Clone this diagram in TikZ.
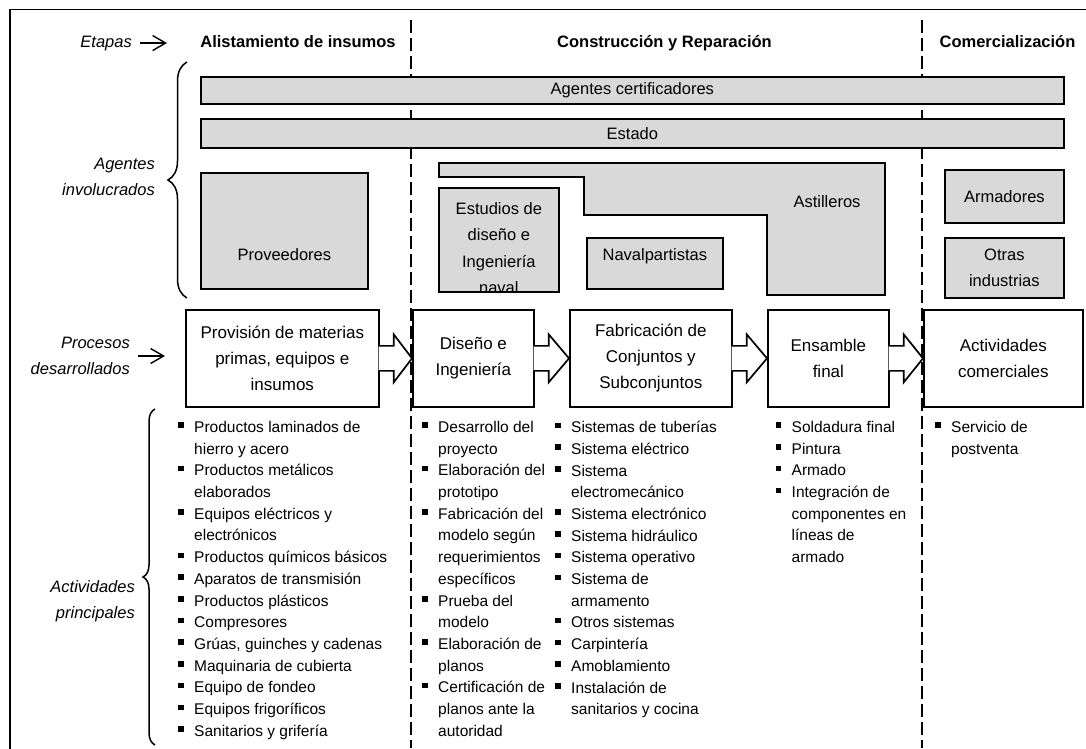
\documentclass[tikz,border=0pt]{standalone}
\usepackage{fontspec}
\setmainfont{Liberation Sans}
\usetikzlibrary{arrows.meta,calc,decorations.pathreplacing}
\definecolor{agentgray}{RGB}{217,217,217}
\newcommand{\bul}{\makebox[16pt][l]{\raisebox{4.5pt}{\rule{5.5pt}{5.5pt}}}}
\newcommand{\cont}{\hspace*{16pt}}
\newcommand{\flowarrow}[2]{%
\filldraw[flow] ($(#1.east)+(-1,-12.5)$) -- ($(#1.east)+(14,-12.5)$) -- ($(#1.east)+(14,-24)$) -- (#2.west) -- ($(#1.east)+(14,24)$) -- ($(#1.east)+(14,12.5)$) -- ($(#1.east)+(-1,12.5)$);}

\begin{document}
\begin{tikzpicture}[x=1pt,y=-1pt,
agent/.style={draw,fill=agentgray,line width=1.7pt,inner sep=0pt,anchor=north west,font=\fontsize{16.5}{26}\selectfont,align=center},
agenttext/.style={inner sep=0pt,font=\fontsize{16.5}{26.5}\selectfont,align=center},
proc/.style={draw,fill=white,line width=1.7pt,inner sep=0pt,minimum height=97pt,anchor=north west,font=\fontsize{17}{26}\selectfont,align=center},
lbl/.style={inner sep=0pt,font=\fontsize{16.5}{26}\selectfont\itshape,align=right},
stage/.style={inner sep=0pt,anchor=base,font=\fontsize{16.5}{20}\selectfont\bfseries},
items/.style={inner sep=0pt,anchor=north west,align=left,font=\fontsize{15.5}{21.7}\selectfont},
divider/.style={line width=1.6pt,dash pattern=on 13pt off 5pt},
pointer/.style={line width=1.4pt,-{Straight Barb[length=13pt,width=15pt]}},
curly/.style={line width=1.5pt,decorate},
flow/.style={line width=1.7pt,fill=white}]
\useasboundingbox (0,0) rectangle (1086,748);

% frame and stage dividers
\draw[line width=1.6pt] (1100,9.5) -- (10,9.5) -- (10,760);
\draw[divider] (411,20) -- (411,748);
\draw[divider] (922,20) -- (922,748);

% stages
\node[lbl,anchor=base east] (etapas) at (132,47) {Etapas};
\coordinate (etapasend) at ($(etapas.east)+(35,0)$);
\draw[pointer] ([xshift=8pt]etapas.east) -- (etapasend);
\node[stage] (st1) at (298,47) {Alistamiento de insumos};
\node[stage] (st2) at (664.5,47) {Construcción y Reparación};
\node[stage] (st3) at (1007.5,47) {Comercialización};

% agents
\node[lbl,anchor=east] (aglbl) at (155,177) {Agentes\\involucrados};
\draw[curly,decoration={brace,amplitude=19pt}] (187,298) -- (187,62);

\node[agent,minimum width=863pt,minimum height=27pt] (cert) at (200,76) {Agentes certificadores};
\node[agent,minimum width=863pt,minimum height=29pt] (estado) at (200,118) {Estado};

\node[agent,minimum width=167pt,minimum height=116pt] (prv) at (200,172) {};
\node[agenttext] (prvtxt) at ($(prv.south)+(0,-35)$) {Proveedores};

\filldraw[line width=1.7pt,fill=agentgray] (439,163) -- (885,163) -- (885,295) -- (767,295) -- (767,215) -- (584,215) -- (584,177) -- (439,177) -- cycle;
\node[agenttext] (ast) at (827,202) {Astilleros};

\node[agent,draw=none,minimum width=118pt,minimum height=102pt] (est) at (439,188) {};
\begin{scope}
\clip (est.north west) rectangle (est.south east);
\node[agenttext] (esttxt) at ($(est.center)+(0,8)$) {Estudios de\\diseño e\\Ingeniería\\naval};
\end{scope}
\draw[line width=1.7pt] (est.north west) rectangle (est.south east);

\node[agent,minimum width=136pt,minimum height=51pt] (nav) at (586,237) {};
\node[agenttext] (navtxt) at ($(nav.center)+(0,-7.5)$) {Navalpartistas};

\node[agent,minimum width=119pt,minimum height=53pt] (arm) at (944,169) {Armadores};
\node[agent,minimum width=119pt,minimum height=60pt] (otr) at (944,237) {Otras\\industrias};

% processes
\node[lbl,anchor=east] (proclbl) at (130,356) {Procesos\\desarrollados};
\coordinate (procend) at ($(proclbl.east)+(35,0)$);
\draw[pointer] ([xshift=8pt]proclbl.east) -- (procend);

\node[proc,minimum width=193pt] (pprov) at (185,309) {Provisión de materias\\primas, equipos e\\insumos};
\node[proc,minimum width=121pt] (pdis) at (412,309) {Diseño e\\Ingeniería};
\node[proc,minimum width=162pt] (pfab) at (569,309) {Fabricación de\\Conjuntos y\\Subconjuntos};
\node[proc,minimum width=121pt] (pens) at (767,309) {Ensamble\\final};
\node[proc,minimum width=159pt] (pact) at (923,309) {Actividades\\comerciales};

\flowarrow{pprov}{pdis}
\flowarrow{pdis}{pfab}
\flowarrow{pfab}{pens}
\flowarrow{pens}{pact}

% activities
\node[lbl,anchor=east] (actlbl) at (135,601) {Actividades\\principales};
\draw[curly,decoration={brace,amplitude=12pt}] (155,745) -- (155,409);

\node[items] (lst1) at (178,421) {\bul Productos laminados de\\\cont hierro y acero\\\bul Productos metálicos\\\cont elaborados\\\bul Equipos eléctricos y\\\cont electrónicos\\\bul Productos químicos básicos\\\bul Aparatos de transmisión\\\bul Productos plásticos\\\bul Compresores\\\bul Grúas, guinches y cadenas\\\bul Maquinaria de cubierta\\\bul Equipo de fondeo\\\bul Equipos frigoríficos\\\bul Sanitarios y grifería};
\node[items] (lst2) at (422,421) {\bul Desarrollo del\\\cont proyecto\\\bul Elaboración del\\\cont prototipo\\\bul Fabricación del\\\cont modelo según\\\cont requerimientos\\\cont específicos\\\bul Prueba del\\\cont modelo\\\bul Elaboración de\\\cont planos\\\bul Certificación de\\\cont planos ante la\\\cont autoridad};
\node[items] (lst3) at (555,421) {\bul Sistemas de tuberías\\\bul Sistema eléctrico\\\bul Sistema\\\cont electromecánico\\\bul Sistema electrónico\\\bul Sistema hidráulico\\\bul Sistema operativo\\\bul Sistema de\\\cont armamento\\\bul Otros sistemas\\\bul Carpintería\\\bul Amoblamiento\\\bul Instalación de\\\cont sanitarios y cocina};
\node[items] (lst4) at (775.5,421) {\bul Soldadura final\\\bul Pintura\\\bul Armado\\\bul Integración de\\\cont componentes en\\\cont líneas de\\\cont armado};
\node[items] (lst5) at (935,421) {\bul Servicio de\\\cont postventa};
\end{tikzpicture}
\end{document}
